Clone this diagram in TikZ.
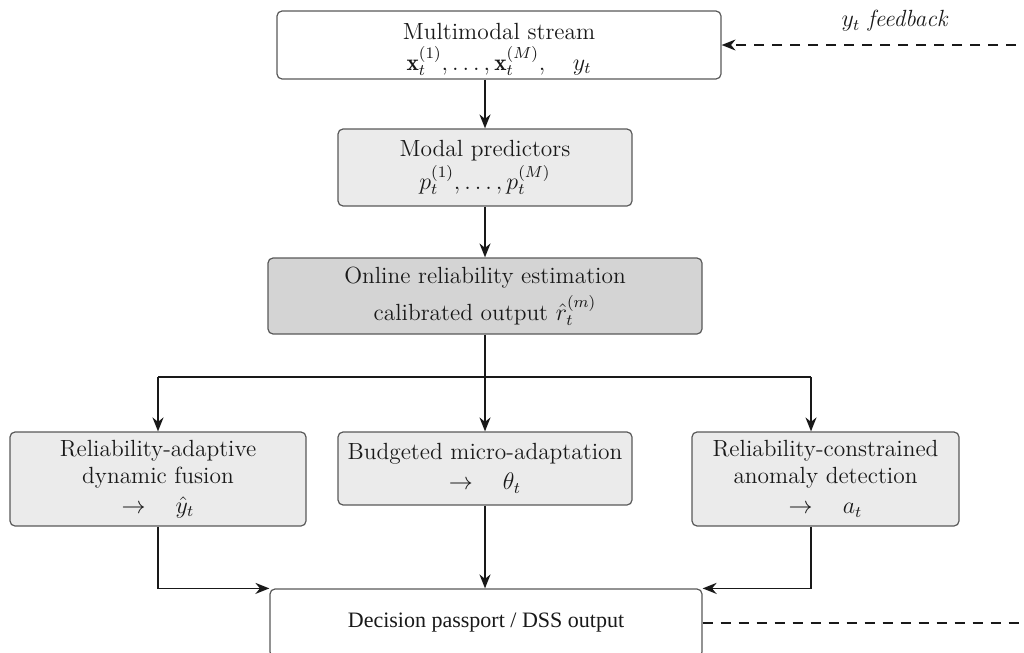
\documentclass[tikz,border=0pt]{standalone}
\usepackage{fontspec}
\usepackage{amsmath}
\newfontfamily\timesserif{Liberation Serif}
\usetikzlibrary{arrows.meta}
\definecolor{boxline}{gray}{0.35}
\definecolor{fillA}{gray}{0.92}
\definecolor{fillB}{gray}{0.83}
\definecolor{txt}{gray}{0.1}
\begin{document}
\begin{tikzpicture}[x=0.5pt,y=-0.5pt,
  box/.style={draw=boxline, line width=0.6pt, rounded corners=2.5pt, align=center, inner sep=0pt, text=txt,
    font=\fontsize{11.7}{13.5}\selectfont},
  conn/.style={line width=0.9pt, draw=black!90},
  arr/.style={conn, -{Stealth[length=7pt,width=5.5pt]}},
  dsh/.style={line width=0.75pt, draw=black!90, dash pattern=on 5pt off 4pt}]
\useasboundingbox (0,0) rectangle (1024,653);
\clip (0,0) rectangle (1024,653);
\node[box, fill=white, minimum width=222pt, minimum height=34pt] (stream) at (499,45)
  {\mbox{}\\[-1pt] Multimodal stream\\[2pt] $\mathbf{x}_t^{(1)},\dots,\mathbf{x}_t^{(M)},\quad y_t$};
\node[box, fill=fillA, minimum width=147pt, minimum height=38.5pt] (pred) at (485,167.5)
  {Modal predictors\\[1pt] $p_t^{(1)},\dots,p_t^{(M)}$};
\node[box, fill=fillB, minimum width=217pt, minimum height=38pt] (rel) at (485,296)
  {Online reliability estimation\\[3pt] calibrated output $\hat r_t^{(m)}$};
\node[box, fill=fillA, minimum width=148pt, minimum height=47pt] (fus) at (158,479)
  {Reliability-adaptive\\ dynamic fusion\\[1.5pt] $\rightarrow\quad \hat y_t$};
\node[box, fill=fillA, minimum width=147pt, minimum height=36.5pt] (ada) at (485,468.5)
  {Budgeted micro-adaptation\\[1.5pt] $\rightarrow\quad\theta_t$};
\node[box, fill=fillA, minimum width=133.5pt, minimum height=47pt] (anom) at (825.5,479)
  {Reliability-constrained\\ anomaly detection\\[1.5pt] $\rightarrow\quad a_t$};
\node[box, fill=white, minimum width=216pt, minimum height=34pt, font=\fontsize{11}{13}\selectfont] (dss) at (486,623)
  {\timesserif Decision passport / DSS output};
\node[text=txt, font=\fontsize{11.7}{13.5}\selectfont] (fblabel) at (895,21) {$y_t$ \textit{feedback}};
\coordinate (split) at (485,377);
\coordinate (sl) at (158,377);
\coordinate (sr) at (811,377);
\coordinate (fbR) at (1034,45);
\coordinate (dssR) at (1034,623);
\draw[arr] (stream.south -| pred.north) -- (pred.north);
\draw[arr] (pred.south) -- (rel.north);
\draw[conn] (rel.south) -- (split);
\draw[conn] (sl) -- (sr);
\draw[arr] (sl) -- (fus.north);
\draw[arr] (split) -- (ada.north);
\draw[arr] (sr) -- (sr |- anom.north);
\draw[arr] (fus.south) |- (dss.north west);
\draw[arr] (ada.south) -- (ada.south |- dss.north);
\draw[arr] (sr |- anom.south) |- (dss.north east);
\draw[dsh, -{Stealth[length=7pt,width=5.5pt]}] (fbR) -- (stream.east);
\draw[dsh] (dss.east) -- (dssR);
\end{tikzpicture}
\end{document}
